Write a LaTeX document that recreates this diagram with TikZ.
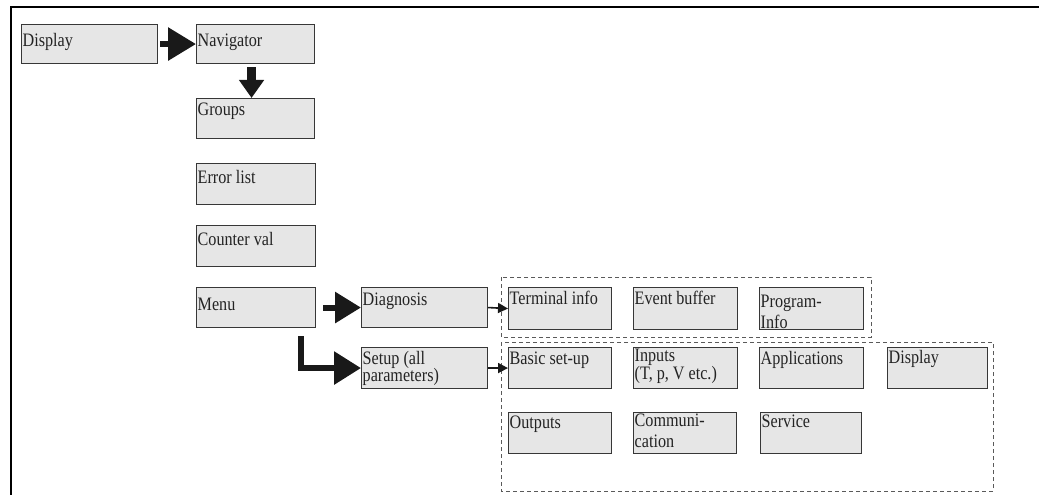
\documentclass[tikz,border=0pt]{standalone}
\usepackage{fontspec}
\setmainfont{Liberation Serif}[FakeStretch=0.85]
\usetikzlibrary{arrows.meta}
\definecolor{boxfill}{RGB}{230,230,230}
\definecolor{boxline}{RGB}{55,55,55}
\definecolor{textgray}{RGB}{35,35,35}
\definecolor{dashgray}{RGB}{90,90,90}
\definecolor{arrowblack}{RGB}{25,25,25}
\newcommand\myst{\rule{0pt}{14pt}}
\tikzset{
  box/.style={draw=boxline, fill=boxfill, line width=1.1pt, anchor=north west, inner sep=0pt, minimum height=#1},
  box/.default=40pt,
  lbl/.style={inner sep=0pt, anchor=north west, align=left, text=textgray, font=\fontsize{19}{17}\selectfont},
  group/.style={draw=dashgray, line width=1pt, dash pattern=on 4pt off 3pt},
  fat/.style={draw=arrowblack, line join=miter},
  thin/.style={draw=arrowblack, line width=1.6pt, -{Triangle[length=10pt,width=10pt]}},
  frame/.style={draw=black, line width=2.2pt}
}
\begin{document}
\begin{tikzpicture}[x=1pt,y=-1pt]
\useasboundingbox (0,0) rectangle (1039,495);
% frame
\draw[frame] (11,495) -- (11,7) -- (1045,7);
% dashed groups
\draw[group] (501,277) rectangle (871,337);
\draw[group] (501,342) rectangle (993,491);
% left column
\node[box=39pt, minimum width=136pt] (display) at (21,24) {};
\node[box=39pt, minimum width=118pt] (navigator) at (196,24) {};
\node[box=40pt, minimum width=118pt] (groups) at (196,98) {};
\node[box=41pt, minimum width=119pt] (errorlist) at (196,163) {};
\node[box=41pt, minimum width=119pt] (counter) at (196,225) {};
\node[box=40pt, minimum width=119pt] (menu) at (196,287) {};
\node[box=40pt, minimum width=126pt] (diagnosis) at (361,287) {};
\node[box=41pt, minimum width=126pt] (setup) at (361,347) {};
% diagnosis group
\node[box=42pt, minimum width=103pt] (terminal) at (508,287) {};
\node[box=42pt, minimum width=104pt] (event) at (633,287) {};
\node[box=42pt, minimum width=104pt] (program) at (759,287) {};
% setup group
\node[box=41pt, minimum width=103pt] (basic) at (508,347) {};
\node[box=41pt, minimum width=104pt] (inputs) at (633,347) {};
\node[box=41pt, minimum width=104pt] (applications) at (759,347) {};
\node[box=41pt, minimum width=100pt] (display2) at (887,347) {};
\node[box=41pt, minimum width=103pt] (outputs) at (508,412) {};
\node[box=41pt, minimum width=103pt] (communication) at (633,412) {};
\node[box=41pt, minimum width=101pt] (service) at (760,412) {};
% labels
\node[lbl] (displayT) at ([shift={(1.5,8)}]display.north west) {\myst Display};
\node[lbl] (navigatorT) at ([shift={(1.5,8)}]navigator.north west) {\myst Navigator};
\node[lbl] (groupsT) at ([shift={(1.5,3)}]groups.north west) {\myst Groups};
\node[lbl] (errorlistT) at ([shift={(1.5,6)}]errorlist.north west) {\myst Error list};
\node[lbl] (counterT) at ([shift={(1.5,6)}]counter.north west) {\myst Counter val};
\node[lbl] (menuT) at ([shift={(1.5,9)}]menu.north west) {\myst Menu};
\node[lbl] (diagnosisT) at ([shift={(1.5,4)}]diagnosis.north west) {\myst Diagnosis};
\node[lbl, font=\fontsize{19}{17.5}\selectfont] (setupT) at ([shift={(1.5,3)}]setup.north west) {\myst Setup (all\\parameters)};
\node[lbl] (terminalT) at ([shift={(1.5,3.5)}]terminal.north west) {\myst Terminal info};
\node[lbl] (eventT) at ([shift={(1.5,3.5)}]event.north west) {\myst Event buffer};
\node[lbl, font=\fontsize{19}{21}\selectfont] (programT) at ([shift={(1.5,6)}]program.north west) {\myst Program-\\Info};
\node[lbl] (basicT) at ([shift={(1.5,3)}]basic.north west) {\myst Basic set-up};
\node[lbl, font=\fontsize{19}{17}\selectfont] (inputsT) at ([shift={(1.5,0)}]inputs.north west) {\myst Inputs\\(T, p, V etc.)};
\node[lbl] (applicationsT) at ([shift={(1.5,3)}]applications.north west) {\myst Applications};
\node[lbl] (display2T) at ([shift={(1.5,2)}]display2.north west) {\myst Display};
\node[lbl] (outputsT) at ([shift={(1.5,2)}]outputs.north west) {\myst Outputs};
\node[lbl, font=\fontsize{19}{21}\selectfont] (communicationT) at ([shift={(1.5,0)}]communication.north west) {\myst Communi-\\cation};
\node[lbl] (serviceT) at ([shift={(1.5,1)}]service.north west) {\myst Service};
% fat arrows
\draw[fat, line width=6pt, -{Triangle[length=28pt,width=32pt]}] ([xshift=2pt]display.east) -- (navigator.west);
\draw[fat, line width=9pt, -{Triangle[length=18pt,width=24pt]}] ([shift={(-4,3)}]navigator.south) -- ([xshift=-4pt]groups.north);
\draw[fat, line width=6pt, -{Triangle[length=26pt,width=30pt]}] ([xshift=7pt]menu.east) -- (diagnosis.west);
\coordinate (elbowstart) at ([shift={(-15,8)}]menu.south east);
\draw[fat, line width=6pt, -{Triangle[length=27pt,width=32pt]}] (elbowstart) |- (setup.west);
% thin arrows
\draw[thin] (diagnosis.east) -- (terminal.west);
\draw[thin] (setup.east) -- (basic.west);
\end{tikzpicture}
\end{document}
